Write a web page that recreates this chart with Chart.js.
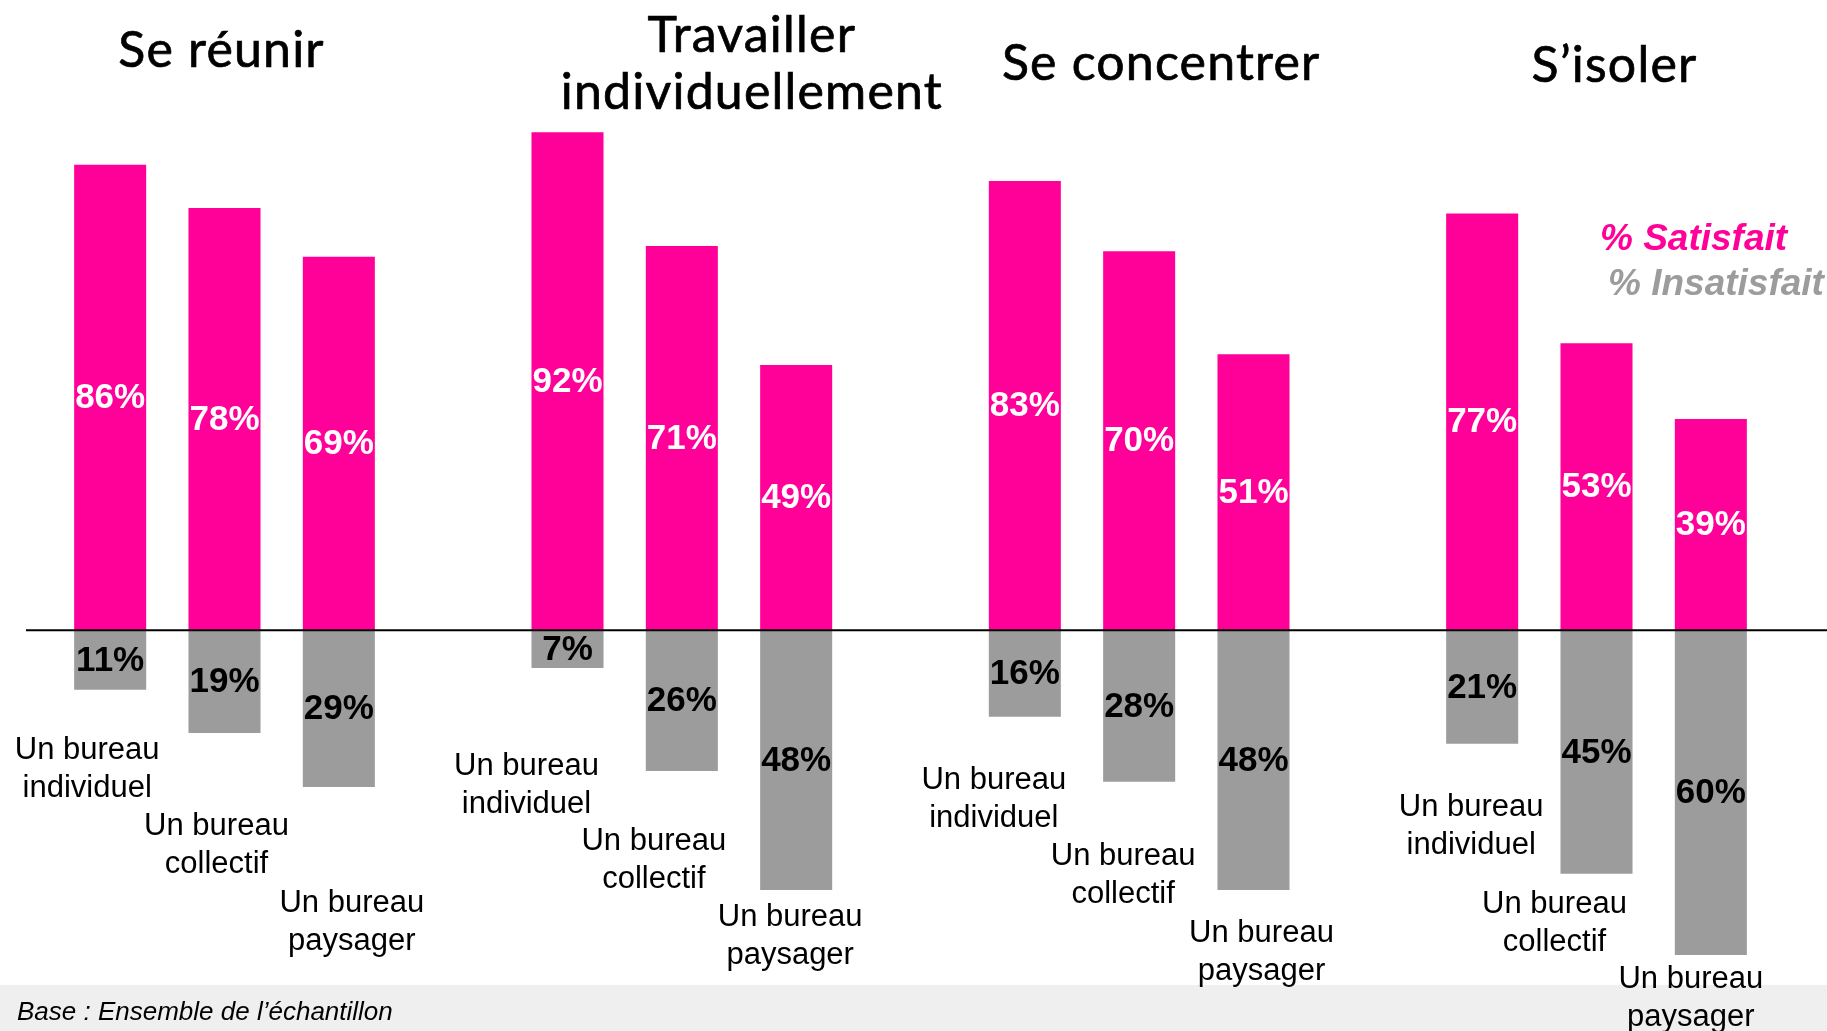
<!DOCTYPE html>
<html>
<head>
<meta charset="utf-8">
<script src="https://cdn.jsdelivr.net/npm/chart.js@4"></script>
<style>
  html, body { margin: 0; padding: 0; background: #fff; }
  #wrap { width: 1827px; height: 1031px; }
</style>
</head>
<body>
<div id="wrap"><canvas id="barchart" width="1827" height="1031"></canvas></div>
<script>
const groups = [['Se réunir'], ['Travailler', 'individuellement'], ['Se concentrer'], ['S’isoler']];
const offices = [['Un bureau', 'individuel'], ['Un bureau', 'collectif'], ['Un bureau', 'paysager']];
const satisfait = [86, 78, 69, 92, 71, 49, 83, 70, 51, 77, 53, 39];
const insatisfait = [11, 19, 29, 7, 26, 48, 16, 28, 48, 21, 45, 60];
const seriesNames = ['% Satisfait', '% Insatisfait'];
const note = 'Base : Ensemble de l’échantillon';

const PINK = '#ff0099';
const GREY = '#9c9c9c';

// 3 bars per group, one empty slot between groups
const labels = [], satData = [], insData = [], barIndex = [];
groups.forEach((g, gi) => {
  if (gi > 0) { labels.push(''); satData.push(null); insData.push(null); barIndex.push(-1); }
  offices.forEach((o, oi) => {
    const k = gi * offices.length + oi;
    labels.push(o.join(' '));
    satData.push(satisfait[k]);
    insData.push(-insatisfait[k]);
    barIndex.push(k);
  });
});

// hand placed label offsets (dx from bar centre, dy from zero line)
const officePos = [[-23, 120], [-8, 196], [13, 273], [-41, 136], [-28, 211], [-6, 287],
                   [-31, 150], [-16, 226], [8, 303], [-11, 177], [-42, 274], [-20, 349]];
const titlePos = [[-3, 51], [70, 36], [22, 64], [18, 66]];

const decor = {
  id: 'decor',
  beforeDraw(chart) {
    const c = chart.ctx;
    c.save();
    c.fillStyle = '#fff';
    c.fillRect(0, 0, chart.width, chart.height);
    c.fillStyle = '#efefef';
    c.fillRect(0, 985, chart.width, chart.height - 985);
    c.restore();
  },
  afterDatasetsDraw(chart) {
    const c = chart.ctx;
    const x = chart.scales.x, y = chart.scales.y;
    const zero = y.getPixelForValue(0);
    c.save();

    // zero line
    c.strokeStyle = '#000';
    c.lineWidth = 2;
    c.beginPath();
    c.moveTo(26, zero);
    c.lineTo(chart.width, zero);
    c.stroke();

    // values inside bars
    c.textAlign = 'center';
    c.textBaseline = 'middle';
    c.font = 'bold 35px "Liberation Sans", Arial, sans-serif';
    chart.data.datasets.forEach((ds, di) => {
      c.fillStyle = di === 0 ? '#fff' : '#000';
      chart.getDatasetMeta(di).data.forEach((bar, i) => {
        if (ds.data[i] == null) return;
        c.fillText(Math.abs(ds.data[i]) + '%', bar.x, (bar.y + bar.base) / 2 + 1);
      });
    });

    // office labels under bars
    c.fillStyle = '#000';
    c.font = '31px "Liberation Sans", Arial, sans-serif';
    barIndex.forEach((k, i) => {
      if (k < 0) return;
      const cx = x.getPixelForValue(i) + officePos[k][0];
      const cy = zero + officePos[k][1];
      offices[k % offices.length].forEach((line, li) => c.fillText(line, cx, cy + li * 38));
    });

    // group titles
    c.font = '50px Lato, "Open Sans", sans-serif';
    c.letterSpacing = '1.2px';
    c.strokeStyle = '#000';
    c.lineWidth = 0.7;
    groups.forEach((g, gi) => {
      const mid = barIndex.indexOf(gi * offices.length + 1);
      const cx = x.getPixelForValue(mid) + titlePos[gi][0];
      g.forEach((line, li) => {
        c.fillText(line, cx, titlePos[gi][1] + li * 57);
        c.strokeText(line, cx, titlePos[gi][1] + li * 57);
      });
    });
    c.letterSpacing = '0px';

    // legend
    c.textAlign = 'left';
    c.textBaseline = 'alphabetic';
    c.font = 'italic bold 37px "Liberation Sans", Arial, sans-serif';
    c.fillStyle = PINK;
    c.fillText(seriesNames[0], 1600, 250);
    c.fillStyle = GREY;
    c.fillText(seriesNames[1], 1608, 295);

    // note
    c.fillStyle = '#000';
    c.font = 'italic 26px "Liberation Sans", Arial, sans-serif';
    c.fillText(note, 17, 1020);
    c.restore();
  }
};

new Chart(document.getElementById('barchart').getContext('2d'), {
  type: 'bar',
  data: {
    labels: labels,
    datasets: [{
      label: seriesNames[0],
      data: satData,
      backgroundColor: PINK,
      borderWidth: 0,
      barPercentage: 0.63,
      categoryPercentage: 1
    }, {
      label: seriesNames[1],
      data: insData,
      backgroundColor: GREY,
      borderWidth: 0,
      barPercentage: 0.63,
      categoryPercentage: 1
    }]
  },
  options: {
    responsive: false,
    animation: false,
    layout: { padding: { left: 53, right: 59, top: 89, bottom: 22 } },
    plugins: { legend: { display: false }, tooltip: { enabled: false } },
    scales: {
      x: { stacked: true, display: false, offset: true },
      y: { stacked: true, display: false, min: -70, max: 100 }
    }
  },
  plugins: [decor]
});
</script>
</body>
</html>
